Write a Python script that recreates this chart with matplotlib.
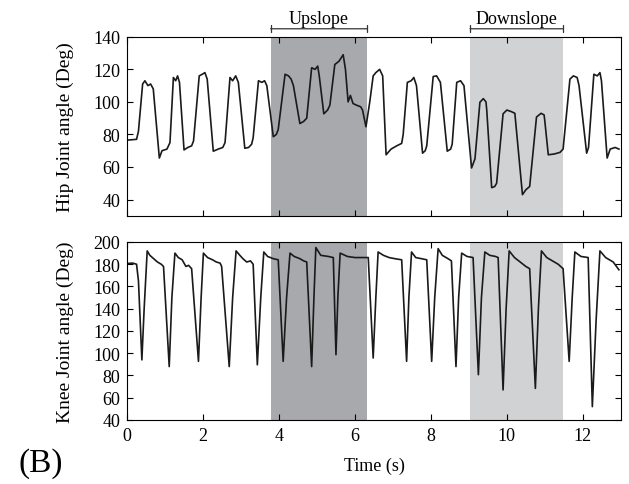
import matplotlib
matplotlib.use('Agg')
import matplotlib.pyplot as plt

plt.rcParams['font.family'] = ['Liberation Serif', 'DejaVu Serif']

# hip joint angle (time s, deg)
hip_t = [0.0, 0.25, 0.30, 0.41, 0.47, 0.55, 0.62, 0.69, 0.85, 0.92, 1.05, 1.13,
         1.22, 1.28, 1.33, 1.38, 1.50, 1.60, 1.70, 1.75, 1.90, 1.98, 2.05, 2.11,
         2.27, 2.40, 2.52, 2.58, 2.71, 2.78, 2.86, 2.93, 3.10, 3.20, 3.28, 3.32,
         3.46, 3.55, 3.62, 3.68, 3.85, 3.93, 3.98, 4.16, 4.25, 4.32, 4.38, 4.55,
         4.65, 4.73, 4.86, 4.95, 5.02, 5.06, 5.18, 5.28, 5.34, 5.47, 5.58, 5.69,
         5.75, 5.82, 5.88, 5.95, 6.04, 6.15, 6.20, 6.29, 6.39, 6.48, 6.55, 6.65,
         6.73, 6.82, 6.95, 7.10, 7.23, 7.27, 7.38, 7.48, 7.55, 7.62, 7.78, 7.85,
         7.89, 8.06, 8.15, 8.25, 8.43, 8.52, 8.56, 8.68, 8.78, 8.87, 9.07, 9.16,
         9.29, 9.38, 9.45, 9.47, 9.60, 9.68, 9.73, 9.90, 10.00, 10.12, 10.21, 10.41,
         10.50, 10.60, 10.78, 10.90, 10.98, 11.00, 11.09, 11.25, 11.40, 11.48, 11.66, 11.75,
         11.85, 11.90, 12.10, 12.15, 12.29, 12.38, 12.45, 12.49, 12.64, 12.72, 12.85, 12.95]
hip_deg = [76.5, 77, 82, 111, 113, 110, 111, 108, 65.5, 70, 71, 75,
           115, 113, 116, 112, 70.5, 72, 73, 76, 116, 117, 118, 114,
           69.7, 71, 72, 75, 115, 113, 116, 112, 71.5, 72, 74, 78,
           113, 112, 113, 110, 78.6, 80, 83, 117, 116, 114, 110, 86.7,
           88, 90, 121, 120, 122, 116, 92.7, 95, 98, 123, 125, 129,
           120, 100, 104, 99, 98, 97, 95, 84.7, 100, 116, 118, 120,
           116, 67.5, 71, 73, 74.5, 80, 112, 113, 115, 110, 68.5, 70,
           73, 115.6, 116, 112, 69.7, 71, 74, 112, 113, 110, 59.4, 65,
           99.8, 102, 100, 95, 47.3, 48, 50, 92.7, 95, 94, 93, 43,
           46, 48, 90.7, 93, 92, 88, 67.5, 68, 69, 71, 114, 116,
           115, 110, 68.5, 72, 117, 116, 118, 113, 65.5, 71, 72, 71]

# knee joint angle
knee_t = [0.0, 0.15, 0.25, 0.30, 0.39, 0.45, 0.53, 0.60, 0.70, 0.80, 0.90, 0.96,
          1.11, 1.18, 1.26, 1.35, 1.45, 1.55, 1.62, 1.70, 1.88, 1.95, 2.01, 2.12,
          2.25, 2.35, 2.45, 2.49, 2.69, 2.78, 2.87, 2.97, 3.05, 3.15, 3.25, 3.32,
          3.43, 3.52, 3.60, 3.70, 3.85, 3.98, 4.11, 4.20, 4.29, 4.40, 4.55, 4.65,
          4.73, 4.86, 4.92, 4.97, 5.10, 5.30, 5.43, 5.50, 5.55, 5.61, 5.80, 6.00,
          6.20, 6.35, 6.48, 6.55, 6.61, 6.75, 6.90, 7.05, 7.23, 7.36, 7.42, 7.49,
          7.60, 7.75, 7.89, 8.02, 8.10, 8.19, 8.30, 8.45, 8.54, 8.66, 8.73, 8.81,
          8.95, 9.11, 9.25, 9.33, 9.42, 9.55, 9.70, 9.77, 9.90, 9.98, 10.06, 10.20,
          10.35, 10.50, 10.60, 10.75, 10.83, 10.91, 11.05, 11.20, 11.35, 11.48, 11.64, 11.72,
          11.79, 11.95, 12.14, 12.25, 12.35, 12.45, 12.60, 12.80, 12.95]
knee_deg = [180.7, 181, 180, 165, 94, 140, 192, 188, 185, 182, 180, 178,
            88, 150, 190, 186, 184, 178, 179, 176, 92.7, 150, 190, 186,
            184, 182, 181, 178, 88, 150, 192, 188, 185, 182, 183, 180,
            89.6, 150, 191, 187, 185, 184, 92.7, 150, 190, 187, 185, 183,
            182, 88, 150, 195, 188, 187, 186, 98.7, 150, 190, 187, 186,
            186, 186, 95.7, 150, 191, 188, 186, 185, 184, 92.7, 150, 191,
            186, 185, 184, 92.7, 150, 194, 188, 185, 183, 88, 150, 190,
            187, 186, 80.7, 150, 191, 188, 187, 186, 67, 140, 192, 186,
            182, 178, 176, 68.4, 140, 192, 186, 183, 180, 176, 92.7, 150,
            191, 187, 186, 52, 130, 192, 186, 182, 175]

phases = ['Upslope', 'Downslope']
phase_start = [3.78, 9.03]
phase_end = [6.33, 11.47]
phase_color = ['#a7a9ac', '#d1d2d4']

fig = plt.figure(figsize=(6.29, 4.85), dpi=100)
ax1 = fig.add_axes([0.202, 0.553, 0.785, 0.369])
ax2 = fig.add_axes([0.202, 0.132, 0.785, 0.367])

for ax in (ax1, ax2):
    for s, e, c in zip(phase_start, phase_end, phase_color):
        ax.axvspan(s, e, color=c, lw=0, zorder=0)
    ax.set_xlim(0, 13)
    ax.set_xticks(range(0, 13, 2))
    ax.tick_params(direction='in', top=True, right=True, labelsize=13, length=4, pad=5)
    for sp in ax.spines.values():
        sp.set_linewidth(0.8)

ax1.plot(hip_t, hip_deg, color='#1a1a1a', lw=1.2)
ax1.set_ylim(30, 140)
ax1.set_yticks(range(40, 141, 20))
ax1.tick_params(labelbottom=False)
ax1.set_ylabel('Hip Joint angle (Deg)', fontsize=14, labelpad=14)

ax2.plot(knee_t, knee_deg, color='#1a1a1a', lw=1.2)
ax2.set_ylim(40, 200)
ax2.set_yticks(range(40, 201, 20))
ax2.set_ylabel('Knee Joint angle (Deg)', fontsize=14, labelpad=14)
ax2.set_xlabel('Time (s)', fontsize=13, labelpad=9)

# brackets above the top panel
for name, s, e in zip(phases, phase_start, phase_end):
    ax1.annotate('', xy=(s, 1.045), xytext=(e, 1.045), xycoords=('data', 'axes fraction'),
                 arrowprops=dict(arrowstyle='|-|, widthA=0.25, widthB=0.25', color='#333333', lw=0.9,
                                 shrinkA=0, shrinkB=0), annotation_clip=False)
    ax1.text((s + e) / 2, 1.1, name, transform=ax1.get_xaxis_transform(),
             ha='center', va='center', fontsize=13)

fig.text(0.064, 0.045, '(B)', fontsize=24, ha='center', va='center')

fig.savefig('out.png', dpi=100)
